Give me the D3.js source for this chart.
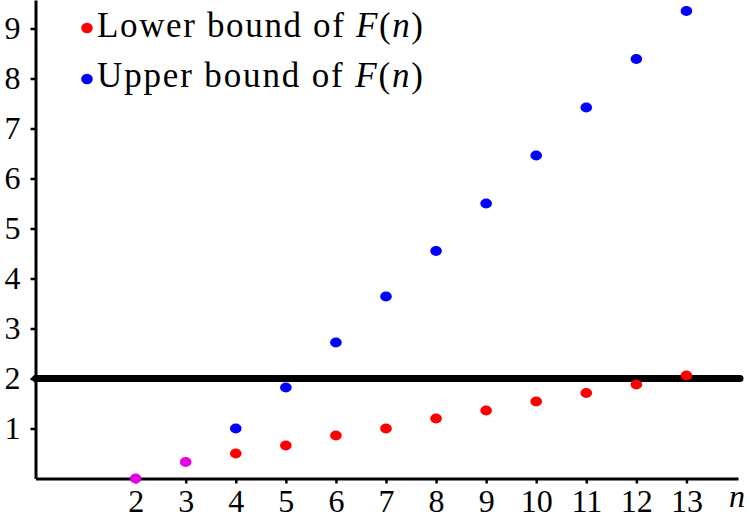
<!DOCTYPE html>
<html>
<head>
<meta charset="utf-8">
<script src="https://cdn.jsdelivr.net/npm/d3@7"></script>
<style>
  body { margin: 0; background: #fff; }
  svg text { font-family: "Liberation Serif", "DejaVu Serif", serif; }
</style>
</head>
<body>
<svg id="chart" width="750" height="520"></svg>
<script>
// values
var exactN = [2, 3]
var exactF = [0, 0.33]
var boundN = [4, 5, 6, 7, 8, 9, 10, 11, 12, 13]
var lowerBound = [0.5, 0.66, 0.86, 1.0, 1.2, 1.36, 1.54, 1.71, 1.88, 2.06]
var upperBound = [1.0, 1.82, 2.72, 3.64, 4.55, 5.5, 6.46, 7.42, 8.39, 9.35]
var xTicks = [2, 3, 4, 5, 6, 7, 8, 9, 10, 11, 12, 13]
var yTicks = [1, 2, 3, 4, 5, 6, 7, 8, 9]
var threshold = 2
var legendItems = [
  { label: "Lower bound of ", color: "#ff0000" },
  { label: "Upper bound of ", color: "#0000ff" }
]

var svg = d3.select("#chart")

var x = d3.scaleLinear().domain([0, 14.03]).range([35.5, 738])
var y = d3.scaleLinear().domain([0, 9.57]).range([478.5, 0])

// y axis
var yAxis = svg.append("g")
  .attr("transform", "translate(" + x(0) + ",0)")
  .call(d3.axisLeft(y).tickValues(yTicks).tickSize(5).tickSizeOuter(0).tickPadding(10).tickFormat(d3.format("d")))
yAxis.select(".domain").attr("stroke-width", 3)
yAxis.selectAll(".tick line").attr("stroke-width", 2.5)
yAxis.selectAll(".tick text").attr("font-size", 32).attr("fill", "#000")
  .attr("font-family", "Liberation Serif")

// x axis
var xAxis = svg.append("g")
  .attr("transform", "translate(0," + y(0) + ")")
  .call(d3.axisBottom(x).tickValues(xTicks).tickSize(5).tickSizeOuter(0).tickPadding(6).tickFormat(d3.format("d")))
xAxis.select(".domain").attr("stroke-width", 3)
xAxis.selectAll(".tick line").attr("stroke-width", 2.5)
xAxis.selectAll(".tick text").attr("font-size", 32).attr("fill", "#000")
  .attr("font-family", "Liberation Serif")

svg.append("text")
  .attr("x", 737).attr("y", 507)
  .attr("text-anchor", "middle")
  .attr("font-size", 32).attr("font-style", "italic")
  .text("n")

// thick line at F(n) = 2
svg.append("line")
  .attr("x1", x(0)).attr("x2", 740)
  .attr("y1", y(threshold)).attr("y2", y(threshold))
  .attr("stroke", "#000").attr("stroke-width", 7)
  .attr("stroke-linecap", "round")

function dots(ns, vals, color) {
  svg.append("g").selectAll("ellipse")
    .data(ns.map((n, i) => ({ n: n, v: vals[i] })))
    .join("ellipse")
    .attr("cx", d => x(d.n))
    .attr("cy", d => y(d.v))
    .attr("rx", 5.8).attr("ry", 5)
    .attr("fill", color)
}
dots(exactN, exactF, "#e600e6")
dots(boundN, lowerBound, "#ff0000")
dots(boundN, upperBound, "#0000ff")

// legend
var legend = svg.append("g")
legend.selectAll("ellipse")
  .data(legendItems)
  .join("ellipse")
  .attr("cx", 87).attr("cy", (d, i) => 28 + i * 51)
  .attr("rx", 5.8).attr("ry", 5.2)
  .attr("fill", d => d.color)
var lt = legend.selectAll("text")
  .data(legendItems)
  .join("text")
  .attr("x", 97).attr("y", (d, i) => 37 + i * 50)
  .attr("font-size", 35)
  .attr("textLength", 326).attr("lengthAdjust", "spacing")
lt.append("tspan").text(d => d.label)
lt.append("tspan").attr("font-style", "italic").text("F")
lt.append("tspan").text("(")
lt.append("tspan").attr("font-style", "italic").text("n")
lt.append("tspan").text(")")
</script>
</body>
</html>
